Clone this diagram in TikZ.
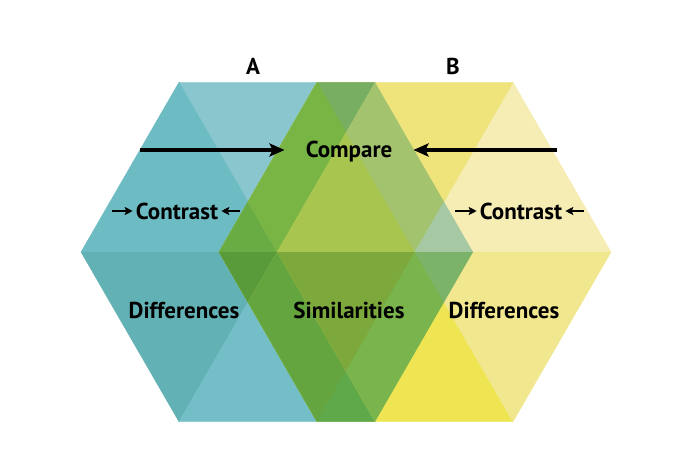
\documentclass[tikz,border=0pt]{standalone}
\usepackage{fontspec}
\setmainfont{PT Sans}
\usetikzlibrary{arrows.meta, positioning, calc}

\definecolor{aUR}{HTML}{8CC6CE}
\definecolor{aT}{HTML}{8AC6CD}
\definecolor{aUL}{HTML}{6DBCC3}
\definecolor{aLL}{HTML}{62B1B4}
\definecolor{aB}{HTML}{74BFC7}
\definecolor{aLR}{HTML}{74BFC7}
\definecolor{bUR}{HTML}{F6EDB5}
\definecolor{bT}{HTML}{EFE37C}
\definecolor{bUL}{HTML}{EFE37C}
\definecolor{bLL}{HTML}{EFE553}
\definecolor{bB}{HTML}{EFE553}
\definecolor{bLR}{HTML}{F1E78F}
\definecolor{g1}{HTML}{78AE62}
\definecolor{g2}{HTML}{78B545}
\definecolor{g3}{HTML}{6AAC44}
\definecolor{g4}{HTML}{A8C550}
\definecolor{g5}{HTML}{A3C36E}
\definecolor{g6}{HTML}{A6C9A3}
\definecolor{g7}{HTML}{599B3A}
\definecolor{g8}{HTML}{64A53F}
\definecolor{g9}{HTML}{7CA83C}
\definecolor{g10}{HTML}{60A94A}
\definecolor{g11}{HTML}{79B44C}
\definecolor{g12}{HTML}{7BB368}

\begin{document}
\begin{tikzpicture}[
        x=1pt, y=1pt,
        lbl/.style={font=\fontsize{23}{25}\selectfont\bfseries, text=black},
        arr/.style={-{Stealth[length=15pt, width=13pt, inset=3pt]}, line width=3.8pt},
        sarr/.style={-{Stealth[length=8pt, width=8pt, inset=1.5pt]}, line width=2.5pt}
    ]
        \useasboundingbox (0,0) rectangle (700,467);
        \coordinate (ac) at (277,215);
        \coordinate (bc) at (415,215);
        \foreach \k in {0,...,6} {
            \coordinate (A\k) at ($(ac)+(60*\k:196)$);
            \coordinate (B\k) at ($(bc)+(60*\k:196)$);
        }

        \foreach \k/\col in {0/aUR, 1/aT, 2/aUL, 3/aLL, 4/aB, 5/aLR} {
            \pgfmathtruncatemacro{\kk}{\k+1}
            \filldraw[fill=\col, draw=\col, line width=0.4pt] (ac) -- (A\k) -- (A\kk) -- cycle;
        }
        \foreach \k/\col in {0/bUR, 1/bT, 2/bUL, 3/bLL, 4/bB, 5/bLR} {
            \pgfmathtruncatemacro{\kk}{\k+1}
            \filldraw[fill=\col, draw=\col, line width=0.4pt] (bc) -- (B\k) -- (B\kk) -- cycle;
        }

        % overlap of A and B
        \foreach \i/\j/\col in {1/1/g1, 1/2/g2, 2/2/g3, 0/2/g4, 0/1/g5, 0/0/g6,
                                3/3/g7, 4/3/g8, 5/3/g9, 4/4/g10, 5/4/g11, 5/5/g12} {
            \pgfmathtruncatemacro{\ii}{\i+1}
            \pgfmathtruncatemacro{\jj}{\j+1}
            \begin{scope}
                \clip (ac) -- (A\i) -- (A\ii) -- cycle;
                \filldraw[fill=\col, draw=\col, line width=0.6pt] (bc) -- (B\j) -- (B\jj) -- cycle;
            \end{scope}
        }

        \node[lbl] (ta) at (253,401) {A};
        \node[lbl] (tb) at (453,401) {B};
        \node[lbl, inner xsep=21pt] (cmp) at (349,315) {Compare};
        \node[lbl, inner xsep=3pt] (ctA) at (177,256) {Contrast};
        \node[lbl, inner xsep=3pt] (ctB) at (521,256) {Contrast};
        \node[lbl] (dfA) at (184,157) {Differences};
        \node[lbl] (sim) at (349,157) {Similarities};
        \node[lbl] (dfB) at (504,157) {Differences};

        \coordinate (cmpA) at (140,317);
        \coordinate (cmpB) at (557,317);
        \draw[arr] (cmpA) -- (cmpA -| cmp.west);
        \draw[arr] (cmpB) -- (cmpB -| cmp.east);

        \coordinate (ctAl) at (112,256);
        \coordinate (ctAr) at (240,256);
        \coordinate (ctBl) at (455,256);
        \coordinate (ctBr) at (584,256);
        \draw[sarr] (ctAl) -- (ctAl -| ctA.west);
        \draw[sarr] (ctAr) -- (ctAr -| ctA.east);
        \draw[sarr] (ctBl) -- (ctBl -| ctB.west);
        \draw[sarr] (ctBr) -- (ctBr -| ctB.east);
\end{tikzpicture}
\end{document}
